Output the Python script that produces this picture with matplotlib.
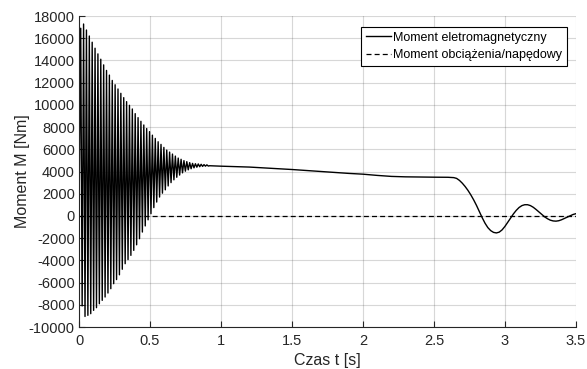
import numpy as np
import matplotlib
matplotlib.use("Agg")
import matplotlib.pyplot as plt

# --- data ---
period = 0.0202          # spacing of the oscillation peaks [s]
t_first_peak = 0.012     # time of the first upper peak [s]

upper_peaks = [16900, 17280, 16740, 16200, 15640, 15100, 14590, 14110, 13600, 13100,
               12680, 12200, 11810, 11430, 11040, 10650, 10290, 9960, 9630, 9210,
               8850, 8520, 8190, 7870, 7590, 7270, 6980, 6680, 6440, 6170,
               5930, 5750, 5570, 5390, 5210, 5100, 4980, 4890, 4800, 4730,
               4700, 4680, 4650, 4620, 4600]
lower_peaks = [-8100, -9050, -8950, -8800, -8500, -8260, -7900, -7600, -7300, -6940,
               -6550, -6100, -5730, -5300, -4800, -4300, -3930, -3550, -3100, -2600,
               -2050, -1450, -900, -350, 200, 750, 1250, 1700, 2050, 2350,
               2700, 3000, 3250, 3480, 3680, 3880, 4030, 4150, 4250, 4330,
               4390, 4430, 4460, 4480, 4490]

tail_t = [0.92, 1.0, 1.2, 1.4, 1.5, 1.7, 1.9, 2.0, 2.1, 2.2, 2.3, 2.4, 2.5, 2.6,
          2.64, 2.66, 2.68, 2.70, 2.72, 2.74, 2.76, 2.78, 2.80, 2.82, 2.84, 2.86,
          2.88, 2.90, 2.92, 2.94, 2.96, 2.98, 3.00, 3.02, 3.04, 3.06, 3.08, 3.10,
          3.12, 3.14, 3.16, 3.18, 3.20, 3.22, 3.24, 3.26, 3.28, 3.30, 3.32, 3.34,
          3.36, 3.38, 3.40, 3.42, 3.44, 3.46, 3.48, 3.50]
tail_m = [4520, 4480, 4400, 4260, 4180, 4000, 3830, 3760, 3650, 3560, 3520, 3500, 3490, 3480,
          3450, 3380, 3200, 2950, 2650, 2300, 1900, 1450, 950, 400, -150, -650,
          -1050, -1320, -1480, -1530, -1460, -1260, -950, -580, -200, 180, 500, 760,
          930, 1010, 1010, 930, 780, 580, 360, 130, -80, -250, -380, -450,
          -470, -430, -340, -220, -90, 30, 130, 200]

load_t = [0.0, 3.5]
load_m = [0.0, 0.0]

x_ticks = [0, 0.5, 1, 1.5, 2, 2.5, 3, 3.5]
x_tick_labels = ["0", "0.5", "1", "1.5", "2", "2.5", "3", "3.5"]
y_ticks = list(range(-10000, 18001, 2000))

# --- build the electromagnetic torque trace from the peaks ---
n = len(upper_peaks)
t_up = t_first_peak + period * np.arange(n)
t_lo = t_up + period / 2
t_osc = np.empty(2 * n)
m_osc = np.empty(2 * n)
t_osc[0::2] = t_up
t_osc[1::2] = t_lo
m_osc[0::2] = upper_peaks
m_osc[1::2] = lower_peaks
t_em = np.concatenate([[0.0], t_osc, tail_t])
m_em = np.concatenate([[0.0], m_osc, tail_m])

# --- figure ---
plt.rcParams['font.family'] = ['Liberation Sans', 'DejaVu Sans']
txt = (0.15, 0.15, 0.15)
fig = plt.figure(figsize=(5.87, 3.69), dpi=100)
ax = fig.add_axes([0.1346, 0.1138, 0.981 - 0.1346, 0.9566 - 0.1138])

ax.plot(t_em, m_em, color='black', lw=1.0, label='Moment eletromagnetyczny')
ax.plot(load_t, load_m, color='black', lw=0.9, ls=(0, (4, 2.5)),
        label='Moment obciążenia/napędowy')

ax.set_xlim(0, 3.5)
ax.set_ylim(-10000, 18000)
ax.set_xticks(x_ticks)
ax.set_xticklabels(x_tick_labels)
ax.set_yticks(y_ticks)
ax.set_yticklabels([str(v) for v in y_ticks])
ax.tick_params(direction='in', length=4, width=0.8, colors=txt, labelsize=10.5,
               labelcolor=txt, top=False, right=False)
ax.tick_params(axis='x', pad=5)
ax.tick_params(axis='y', pad=3)
for s in ['top', 'right']:
    ax.spines[s].set_visible(False)
for s in ['left', 'bottom']:
    ax.spines[s].set_color(txt)
    ax.spines[s].set_linewidth(0.8)
ax.grid(True, color=(0.15, 0.15, 0.15), alpha=0.18, lw=0.8)
ax.set_axisbelow(True)

ax.set_xlabel('Czas t [s]', fontsize=11.5, color=txt, labelpad=3.5)
ax.set_ylabel('Moment M [Nm]', fontsize=11.5, color=txt, labelpad=-1)

leg = ax.legend(loc='upper right', bbox_to_anchor=(0.982, 0.966), fontsize=9,
                frameon=True, fancybox=False, edgecolor='black', framealpha=1,
                borderpad=0.4, labelspacing=0.45, handlelength=2.0,
                handletextpad=0.15, borderaxespad=0.0)
leg.get_frame().set_linewidth(0.8)

fig.savefig('out.png', dpi=100)
